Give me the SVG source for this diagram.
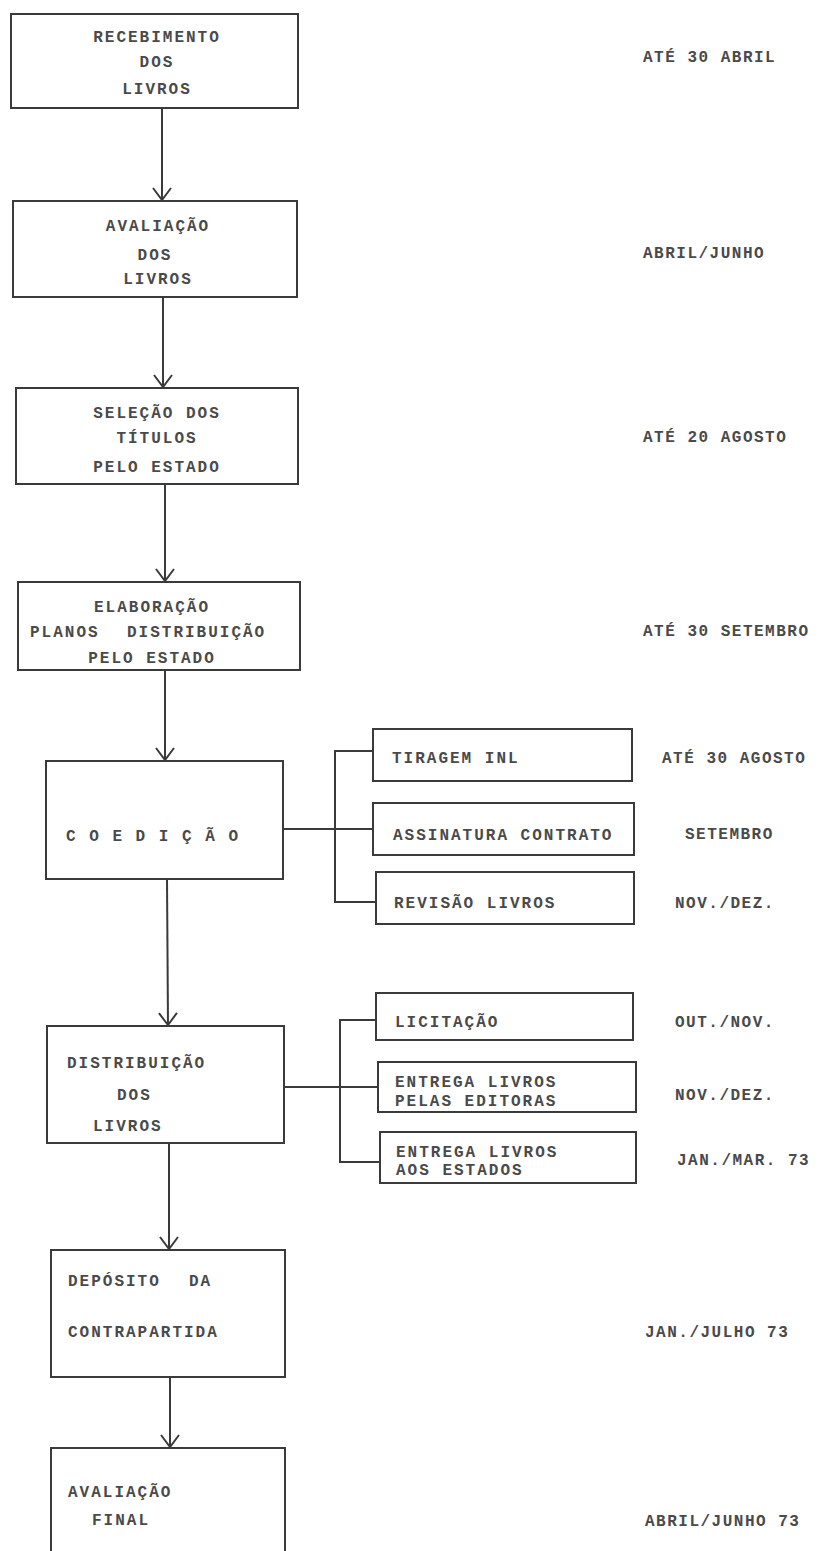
<svg xmlns="http://www.w3.org/2000/svg" width="826" height="1551" viewBox="0 0 826 1551">
<defs>
<style>
.box{fill:none;stroke:#3a3a3a;stroke-width:2}
.ln{fill:none;stroke:#3a3a3a;stroke-width:2}
text{font-family:"Liberation Mono","DejaVu Sans Mono",monospace;font-size:16px;font-weight:bold;fill:#4a4a4a;letter-spacing:2px}
.c{text-anchor:middle}
.d{letter-spacing:1.5px}
</style>
<marker id="arr" viewBox="0 0 14 20" refX="13" refY="10" markerWidth="14" markerHeight="20" markerUnits="userSpaceOnUse" orient="auto">
<path d="M1,1 L13,10 L1,19" fill="none" stroke="#3a3a3a" stroke-width="2"/>
</marker>
</defs>
<rect width="826" height="1551" fill="#ffffff"/>

<g id="connectors">
<line class="ln" x1="162" y1="108" x2="162" y2="200" marker-end="url(#arr)"/>
<line class="ln" x1="163" y1="297" x2="163" y2="387" marker-end="url(#arr)"/>
<line class="ln" x1="165" y1="484" x2="165" y2="581" marker-end="url(#arr)"/>
<line class="ln" x1="165" y1="670" x2="165" y2="760" marker-end="url(#arr)"/>
<line class="ln" x1="167" y1="879" x2="168" y2="1025" marker-end="url(#arr)"/>
<line class="ln" x1="169" y1="1143" x2="169" y2="1249" marker-end="url(#arr)"/>
<line class="ln" x1="170" y1="1377" x2="170" y2="1447" marker-end="url(#arr)"/>
<path class="ln" d="M283,829 H373 M373,751 H335 V902 H376"/>
<path class="ln" d="M284,1087 H378 M376,1020 H340 V1162 H380"/>
</g>

<g id="n1"><rect class="box" x="11" y="14" width="287" height="94"/>
<text class="c" x="157" y="42">RECEBIMENTO</text><text class="c" x="157" y="67">DOS</text><text class="c" x="157" y="94">LIVROS</text></g>
<g id="n2"><rect class="box" x="13" y="201" width="284" height="96"/>
<text class="c" x="158" y="231">AVALIAÇÃO</text><text class="c" x="155" y="260">DOS</text><text class="c" x="158" y="284">LIVROS</text></g>
<g id="n3"><rect class="box" x="16" y="388" width="282" height="96"/>
<text class="c" x="157" y="418">SELEÇÃO DOS</text><text class="c" x="157" y="443">TÍTULOS</text><text class="c" x="157" y="472">PELO ESTADO</text></g>
<g id="n4"><rect class="box" x="18" y="582" width="282" height="88"/>
<text class="c" x="152" y="612">ELABORAÇÃO</text><text x="30" y="637">PLANOS<tspan x="127">DISTRIBUIÇÃO</tspan></text><text class="c" x="152" y="663">PELO ESTADO</text></g>
<g id="n5"><rect class="box" x="46" y="761" width="237" height="118"/>
<text x="66" y="841">C O E D I Ç Ã O</text></g>
<g id="n6"><rect class="box" x="47" y="1026" width="237" height="117"/>
<text x="67" y="1068">DISTRIBUIÇÃO</text><text x="117" y="1100">DOS</text><text x="93" y="1131">LIVROS</text></g>
<g id="n7"><rect class="box" x="51" y="1250" width="234" height="127"/>
<text x="68" y="1286">DEPÓSITO<tspan x="189">DA</tspan></text><text x="68" y="1337">CONTRAPARTIDA</text></g>
<g id="n8"><path class="box" d="M51,1551 V1448 H285 V1551"/>
<text x="68" y="1497">AVALIAÇÃO</text><text x="92" y="1525">FINAL</text></g>

<g id="s1"><rect class="box" x="373" y="729" width="259" height="52"/><text x="392" y="763">TIRAGEM INL</text></g>
<g id="s2"><rect class="box" x="373" y="803" width="261" height="52"/><text x="393" y="840">ASSINATURA CONTRATO</text></g>
<g id="s3"><rect class="box" x="376" y="872" width="258" height="52"/><text x="394" y="908">REVISÃO LIVROS</text></g>
<g id="s4"><rect class="box" x="376" y="993" width="257" height="47"/><text x="395" y="1027">LICITAÇÃO</text></g>
<g id="s5"><rect class="box" x="378" y="1062" width="258" height="50"/><text x="395" y="1087">ENTREGA LIVROS</text><text x="395" y="1106">PELAS EDITORAS</text></g>
<g id="s6"><rect class="box" x="380" y="1132" width="256" height="51"/><text x="396" y="1157">ENTREGA LIVROS</text><text x="396" y="1175">AOS ESTADOS</text></g>

<g id="dates">
<text class="d" x="643" y="62">ATÉ 30 ABRIL</text>
<text class="d" x="643" y="258">ABRIL/JUNHO</text>
<text class="d" x="643" y="442">ATÉ 20 AGOSTO</text>
<text class="d" x="643" y="636">ATÉ 30 SETEMBRO</text>
<text class="d" x="662" y="763">ATÉ 30 AGOSTO</text>
<text class="d" x="685" y="839">SETEMBRO</text>
<text class="d" x="675" y="908">NOV./DEZ.</text>
<text class="d" x="675" y="1027">OUT./NOV.</text>
<text class="d" x="675" y="1100">NOV./DEZ.</text>
<text class="d" x="677" y="1165">JAN./MAR. 73</text>
<text class="d" x="645" y="1337">JAN./JULHO 73</text>
<text class="d" x="645" y="1526">ABRIL/JUNHO 73</text>
</g>
</svg>
